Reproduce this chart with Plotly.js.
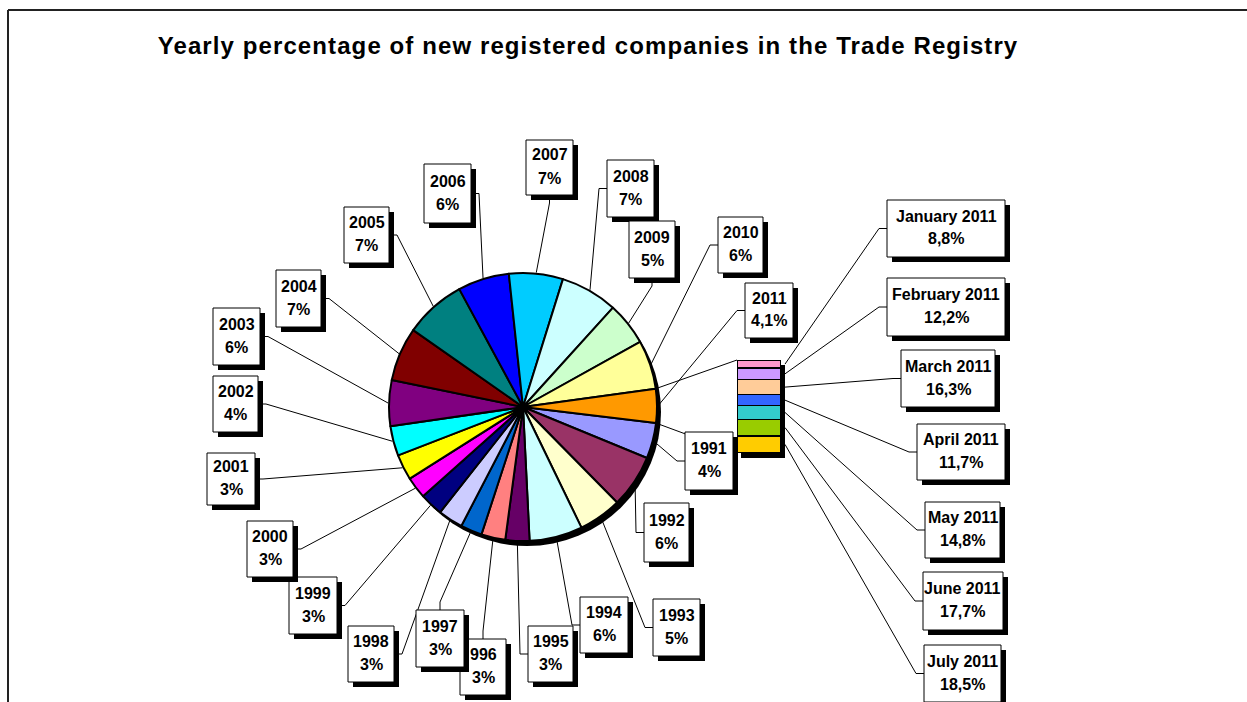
<!DOCTYPE html>
<html><head><meta charset="utf-8">
<script src="https://cdn.plot.ly/plotly-3.0.1.min.js"></script>
<style>
html,body{margin:0;padding:0;background:#fff}
#chart{width:1247px;height:702px}
.gtitle{letter-spacing:1.1px}
</style>
</head><body><div id="chart"></div>
<script>
// ---- data ----
const years = ['1991','1992','1993','1994','1995','1996','1997','1998','1999','2000','2001','2002','2003','2004','2005','2006','2007','2008','2009','2010','2011'];
const yearNames = ['1991','1992','1993','1994','1995','996','1997','1998','1999','2000','2001','2002','2003','2004','2005','2006','2007','2008','2009','2010','2011'];
const yearShare = [4.3, 6.4, 5.2, 6.4, 2.9, 2.9, 2.6, 3.0, 2.8, 2.6, 3.1, 3.6, 5.5, 6.5, 7.4, 6.2, 6.5, 6.9, 5.2, 5.9, 4.1];
const months = ['January 2011','February 2011','March 2011','April 2011','May 2011','June 2011','July 2011'];
const monthShare = [8.8, 12.2, 16.3, 11.7, 14.8, 17.7, 18.5];

// ---- styles / layout ----
const yearColors = ['#9999FF','#993366','#FFFFCC','#CCFFFF','#660066','#FF8080','#0066CC','#CCCCFF','#000080','#FF00FF','#FFFF00','#00FFFF','#800080','#800000','#008080','#0000FF','#00CCFF','#CCFFFF','#CCFFCC','#FFFF99','#FF9900'];
const monthColors = ['#FF99CC','#CC99FF','#FFCC99','#3366FF','#33CCCC','#99CC00','#FFCC00'];
const W = 1247, H = 702;
const CX = 523, CY = 407, R = 134, ROT = 96.9;
const BAR = {l: 737, r: 781, t: 360, b: 453};
const SH = 5; // shadow offset
// label boxes [left, top, right, bottom, side]
const yearBoxes = [
  [685,432,733,490,'l'],[644,503,689,562,'l'],[653,599,700,656,'l'],[580,597,628,653,'l'],
  [528,626,573,682,'l'],[460,639,506,695,'t'],[416,610,464,667,'t'],[348,626,394,682,'r'],
  [289,577,337,634,'r'],[247,521,293,577,'r'],[207,453,255,505,'r'],[213,376,258,432,'r'],
  [213,308,260,365,'r'],[276,270,321,327,'r'],[344,207,389,263,'r'],[424,164,471,223,'r'],
  [526,140,573,195,'b'],[607,160,654,217,'l'],[629,221,675,278,'b'],[718,217,763,273,'l'],
  [745,283,793,338,'l']
];
const monthBoxes = [
  [887,200,1005,257,'l'],[887,278,1005,336,'l'],[901,350,995,407,'l'],[917,424,1005,480,'l'],
  [925,502,1000,558,'l'],[923,572,1003,630,'l'],[924,645,1001,702,'l']
];
const FONT = 'Liberation Sans, Arial, sans-serif';
const FS = 16;

const px = x => x / W;
const py = y => 1 - y / H;

const total = yearShare.reduce((a, b) => a + b, 0);
function pieAngle(frac) { // frac of total from start, clockwise -> math radians
  const compass = ROT + 360 * frac;
  return (90 - compass) * Math.PI / 180;
}
function piePoint(frac, rr) {
  const a = pieAngle(frac);
  return [CX + rr * Math.cos(a), CY - rr * Math.sin(a)];
}

const traces = [];
// pie shadow
traces.push({
  type: 'pie', values: [total], labels: ['shadow'], sort: false,
  marker: {colors: ['#000000'], line: {width: 0}},
  textinfo: 'none', hoverinfo: 'skip', showlegend: false,
  domain: {x: [px(CX - R + 4), px(CX + R + 4)], y: [py(CY + R + SH), py(CY - R + SH)]}
});
// main pie
traces.push({
  type: 'pie', values: yearShare, labels: years, sort: false, direction: 'clockwise', rotation: ROT,
  marker: {colors: yearColors, line: {color: '#000000', width: 2}},
  textinfo: 'none', hoverinfo: 'label+value', showlegend: false,
  domain: {x: [px(CX - R), px(CX + R)], y: [py(CY + R), py(CY - R)]}
});
// stacked bar of the split slice
months.forEach((m, i) => {
  traces.push({
    type: 'bar', x: [0], y: [monthShare[i]], name: m, width: 1,
    marker: {color: monthColors[i], line: {color: '#000000', width: 1.5}},
    hoverinfo: 'name+y', showlegend: false
  });
});

const shapes = [];
const annotations = [];
const lineStyle = {color: '#000000', width: 1};

// frame
shapes.push({type: 'line', xref: 'paper', yref: 'paper', x0: px(8), y0: py(10), x1: px(W), y1: py(10), line: {color: '#222', width: 2}, layer: 'above'});
shapes.push({type: 'line', xref: 'paper', yref: 'paper', x0: px(8), y0: py(10), x1: px(8), y1: py(H), line: {color: '#222', width: 2}, layer: 'above'});

// bar shadow
shapes.push({type: 'rect', xref: 'paper', yref: 'paper', x0: px(BAR.l + 4), x1: px(BAR.r + 4), y0: py(BAR.t + SH), y1: py(BAR.b + SH), fillcolor: '#000', line: {width: 0}, layer: 'below'});

// series lines from split slice to bar
const lastFrac = (total - yearShare[yearShare.length - 1]) / total;
const pTop = piePoint(lastFrac, R);
const pBot = piePoint(0, R);
shapes.push({type: 'line', xref: 'paper', yref: 'paper', x0: px(pTop[0]), y0: py(pTop[1]), x1: px(BAR.l), y1: py(BAR.t), line: lineStyle, layer: 'above'});
shapes.push({type: 'line', xref: 'paper', yref: 'paper', x0: px(pBot[0]), y0: py(pBot[1]), x1: px(BAR.l), y1: py(BAR.b), line: lineStyle, layer: 'above'});

function leader(start, box) {
  const [l, t, r, b, side] = box;
  const mx = (l + r) / 2, my = (t + b) / 2;
  let att, elb;
  if (side === 'l') { att = [l, my]; elb = [l - 8, my]; }
  else if (side === 'r') { att = [r, my]; elb = [r + 8, my]; }
  else if (side === 't') { att = [mx, t]; elb = [mx, t - 8]; }
  else { att = [mx, b]; elb = [mx, b + 8]; }
  const path = 'M' + px(start[0]) + ',' + py(start[1]) + ' L' + px(elb[0]) + ',' + py(elb[1]) + ' L' + px(att[0]) + ',' + py(att[1]);
  shapes.push({type: 'path', xref: 'paper', yref: 'paper', path: path, line: lineStyle, layer: 'above'});
}

// pie leader lines
let cum = 0;
yearShare.forEach((v, i) => {
  const mid = (cum + v / 2) / total;
  cum += v;
  leader(piePoint(mid, R + 1), yearBoxes[i]);
});
// bar leader lines
let mcum = 0;
const mtotal = monthShare.reduce((a, b) => a + b, 0);
monthShare.forEach((v, i) => {
  const midY = BAR.t + (mcum + v / 2) / mtotal * (BAR.b - BAR.t);
  mcum += v;
  leader([BAR.r + 4, midY], monthBoxes[i]);
});

function box(b, line1, line2) {
  const [l, t, r, bt] = b;
  shapes.push({type: 'rect', xref: 'paper', yref: 'paper', x0: px(l + SH), x1: px(r + SH), y0: py(t + SH), y1: py(bt + SH), fillcolor: '#000', line: {width: 0}, layer: 'above'});
  shapes.push({type: 'rect', xref: 'paper', yref: 'paper', x0: px(l), x1: px(r), y0: py(t), y1: py(bt), fillcolor: '#fff', line: {color: '#000', width: 1}, layer: 'above'});
  const cx = (l + r) / 2, cy = (t + bt) / 2 - 1;
  [[line1, cy - 11.5], [line2, cy + 11.5]].forEach(([txt, yy]) => {
    annotations.push({xref: 'paper', yref: 'paper', x: px(cx), y: py(yy), xanchor: 'center', yanchor: 'middle',
      text: txt, showarrow: false, font: {family: FONT, size: FS, color: '#000', weight: 700}});
  });
}
yearShare.forEach((v, i) => {
  const pct = (i === yearShare.length - 1) ? v.toFixed(1).replace('.', ',') + '%' : Math.round(v) + '%';
  box(yearBoxes[i], yearNames[i], pct);
});
monthShare.forEach((v, i) => {
  box(monthBoxes[i], months[i], v.toFixed(1).replace('.', ',') + '%');
});

const layout = {
  width: W, height: H,
  margin: {l: 0, r: 0, t: 0, b: 0},
  paper_bgcolor: '#ffffff', plot_bgcolor: 'rgba(0,0,0,0)',
  showlegend: false,
  barmode: 'stack', bargap: 0,
  title: {text: 'Yearly percentage of new registered companies in the Trade Registry',
    x: px(588), xanchor: 'center', y: py(46), yanchor: 'middle',
    font: {family: FONT, size: 24, color: '#000', weight: 700}},
  xaxis: {domain: [px(BAR.l), px(BAR.r)], range: [-0.5, 0.5], visible: false, fixedrange: true},
  yaxis: {domain: [py(BAR.b), py(BAR.t)], range: [mtotal, 0], visible: false, fixedrange: true},
  shapes: shapes,
  annotations: annotations
};
Plotly.newPlot('chart', traces, layout, {displayModeBar: false, staticPlot: true});
</script>
</body></html>
